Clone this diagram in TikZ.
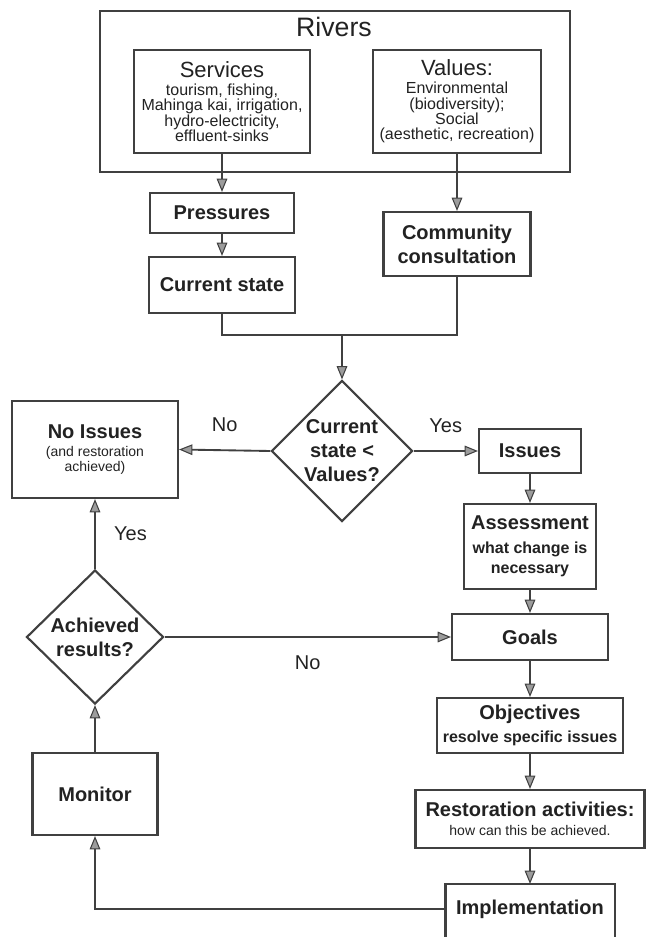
\documentclass[tikz,border=0pt]{standalone}
\usepackage{fontspec}
\setmainfont{Liberation Sans}
\usetikzlibrary{arrows.meta, shapes.geometric, positioning}
\definecolor{inkGrey}{HTML}{222222}
\definecolor{lineGrey}{HTML}{404040}
\definecolor{tipGrey}{HTML}{9C9C9C}
\newcommand\headfont{\fontsize{15}{18}\selectfont\bfseries}
\newcommand\subfont{\fontsize{12}{15}\selectfont\bfseries}
\newcommand\notefont{\fontsize{12}{11.5}\selectfont\mdseries}
\newcommand\tinyfont{\fontsize{10.5}{12}\selectfont\mdseries}
\tikzset{
  box/.style    = {draw=lineGrey, line width=1.6pt, fill=white, align=center,
                   text=inkGrey, font=\headfont, inner sep=2pt},
  choice/.style = {box, diamond, aspect=1, inner sep=0pt},
  fl/.style     = {-{Triangle[length=10pt, width=8pt, fill=tipGrey, line width=0.8pt]},
                   draw=lineGrey, line width=2pt},
  flt/.style    = {fl, line width=1.4pt},
  ln/.style     = {draw=lineGrey, line width=1.6pt},
  lbl/.style    = {font=\fontsize{15}{17}\selectfont, text=inkGrey}
}
\begin{document}
\begin{tikzpicture}[x=0.75pt, y=-0.75pt]
  \useasboundingbox (0,0) rectangle (646,937);
  % rivers frame
  \node[box, minimum width=352.5pt, minimum height=120.75pt] (rivers) at (335,91.5) {};
  \node[text=inkGrey, font=\fontsize{20}{22}\selectfont] (title) at (334,27) {Rivers};
  \node[box, font=\notefont, minimum width=132pt, minimum height=77.25pt] (services) at (222,101.5)
    {{\fontsize{16.5}{18}\selectfont Services}\\[2pt] tourism, fishing,\\ Mahinga kai, irrigation,\\ hydro-electricity,\\ effluent-sinks};
  \node[box, font=\notefont, minimum width=126pt, minimum height=77.25pt] (values) at (457,101.5)
    {{\fontsize{16.5}{18}\selectfont Values:}\\[2pt] Environmental\\ (biodiversity);\\ Social\\ (aesthetic, recreation)};
  % state and consultation
  \node[box, minimum width=108pt, minimum height=30pt] (pressures) at (222,213) {Pressures};
  \node[box, minimum width=109.5pt, minimum height=42pt] (current) at (222,285) {Current state};
  \node[box, minimum width=110.25pt, minimum height=48pt] (community) at (457,244) {Community\\ consultation};
  \coordinate (merge) at (342,335);
  % first decision
  \node[choice, minimum width=105.75pt, minimum height=105.75pt] (check) at (342,451) {Current\\ state <\\ Values?};
  \node[box, minimum width=124.5pt, minimum height=72.75pt] (noissues) at (95,449.5)
    {No Issues\\[-4pt] \tinyfont (and restoration\\[-7pt] \tinyfont achieved)};
  \node[box, minimum width=76.5pt, minimum height=33pt] (issues) at (530,451) {Issues};
  % restoration chain
  \node[box, minimum width=99pt, minimum height=63.75pt] (assess) at (530,546.5)
    {Assessment\\ \subfont what change is\\[-3pt] \subfont necessary};
  \node[box, minimum width=117pt, minimum height=34.5pt] (goals) at (530,637) {Goals};
  \node[box, minimum width=139.5pt, minimum height=41.25pt] (objectives) at (530,725.5)
    {Objectives\\[-1pt] \subfont resolve specific issues};
  \node[box, minimum width=171.75pt, minimum height=43.5pt] (restore) at (530,819)
    {Restoration activities:\\[-4pt] \tinyfont how can this be achieved.};
  \node[box, draw=none, fill=none, minimum width=125.25pt, minimum height=36pt] (impl) at (530,909) {Implementation};
  \draw[box, fill=none] ([yshift=-30pt]impl.south west) |- (impl.north east) -- ([yshift=-30pt]impl.south east);
  % monitoring loop
  \node[choice, minimum width=102.75pt, minimum height=100.5pt] (achieved) at (95,637) {Achieved\\ results?};
  \node[box, minimum width=93.75pt, minimum height=61.5pt] (monitor) at (95,794) {Monitor};

  \draw[fl] (services) -- (pressures);
  \draw[fl] (values) -- (community);
  \draw[fl] (pressures) -- (current);
  \draw[ln] (current.south) |- (merge) -| (community.south);
  \draw[fl] (merge) -- (check.north);
  \draw[flt] (check.west) -- node[lbl, above=10pt] {No} (noissues.east);
  \draw[flt] (check.east) -- node[lbl, above=10pt] {Yes} (issues.west);
  \foreach \x/\y in {issues/assess,assess/goals,goals/objectives,objectives/restore,restore/impl}
    \draw[fl] (\x) -- (\y);
  \draw[fl] (impl.west) -| (monitor.south);
  \draw[fl] (monitor) -- (achieved);
  \draw[fl] (achieved.north) -- node[lbl, right=10pt] {Yes} (noissues.south);
  \draw[flt] (achieved.east) -- node[lbl, below=10pt] {No} (goals.west);
\end{tikzpicture}
\end{document}
